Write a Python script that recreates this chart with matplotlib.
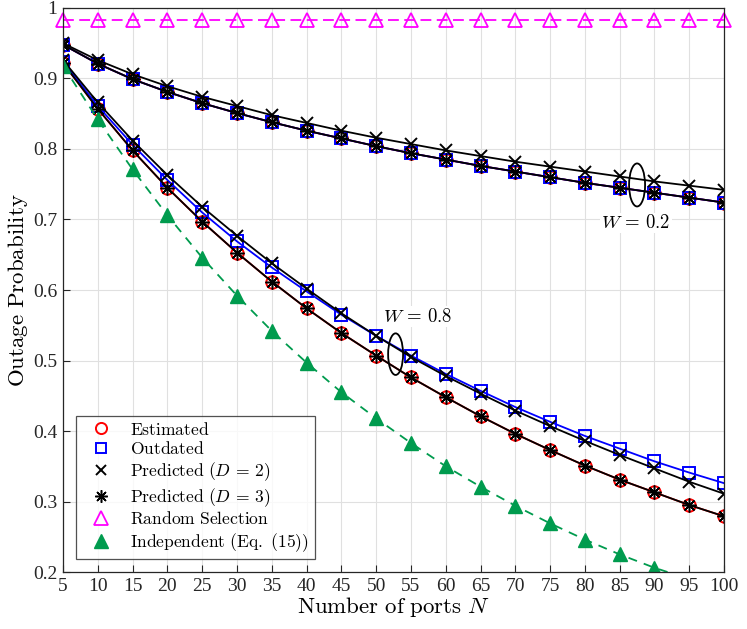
import numpy as np
import matplotlib
matplotlib.use("Agg")
import matplotlib.pyplot as plt
from matplotlib.lines import Line2D
from matplotlib.patches import Ellipse
from matplotlib.ticker import FuncFormatter

plt.rcParams['font.family'] = ['Liberation Serif', 'DejaVu Serif']
plt.rcParams['mathtext.fontset'] = 'cm'

N = list(range(5, 101, 5))

# W = 0.2
est_02 = [0.948, 0.921, 0.899, 0.881, 0.865, 0.851, 0.838, 0.826, 0.815, 0.804,
          0.794, 0.785, 0.776, 0.768, 0.760, 0.752, 0.745, 0.738, 0.731, 0.724]
out_02 = [0.948, 0.921, 0.899, 0.881, 0.865, 0.851, 0.838, 0.826, 0.815, 0.804,
          0.794, 0.785, 0.776, 0.768, 0.760, 0.752, 0.745, 0.738, 0.731, 0.724]
pd2_02 = [0.950, 0.926, 0.906, 0.889, 0.874, 0.861, 0.848, 0.837, 0.826, 0.816,
          0.807, 0.798, 0.790, 0.782, 0.775, 0.768, 0.761, 0.754, 0.748, 0.742]
pd3_02 = [0.948, 0.921, 0.899, 0.881, 0.865, 0.851, 0.838, 0.826, 0.815, 0.804,
          0.794, 0.785, 0.776, 0.768, 0.760, 0.752, 0.745, 0.738, 0.731, 0.724]

# W = 0.8
est_08 = [0.922, 0.857, 0.798, 0.745, 0.697, 0.653, 0.612, 0.574, 0.539, 0.507,
          0.476, 0.448, 0.421, 0.396, 0.373, 0.351, 0.331, 0.313, 0.295, 0.279]
out_08 = [0.924, 0.861, 0.806, 0.756, 0.710, 0.669, 0.632, 0.598, 0.565, 0.535,
          0.507, 0.481, 0.457, 0.434, 0.413, 0.393, 0.375, 0.357, 0.341, 0.326]
pd2_08 = [0.926, 0.866, 0.812, 0.763, 0.718, 0.677, 0.638, 0.602, 0.567, 0.535,
          0.505, 0.478, 0.453, 0.429, 0.407, 0.386, 0.366, 0.347, 0.328, 0.311]
pd3_08 = [0.922, 0.857, 0.798, 0.745, 0.697, 0.653, 0.612, 0.574, 0.539, 0.507,
          0.476, 0.448, 0.421, 0.396, 0.373, 0.351, 0.331, 0.313, 0.295, 0.279]

random_sel = [0.983] * 20
independent = [0.918, 0.842, 0.771, 0.706, 0.646, 0.592, 0.542, 0.497, 0.455, 0.418,
               0.383, 0.350, 0.321, 0.294, 0.269, 0.246, 0.225, 0.206, 0.190, 0.175]

green = '#009B4E'
ast = (8, 2, 0)

fig = plt.figure(figsize=(7.47, 6.29), dpi=100)
ax = fig.add_axes([0.0843, 0.0906, 0.885, 0.8967])

lw = 1.3
for est, out, pd2, pd3 in [(est_02, out_02, pd2_02, pd3_02), (est_08, out_08, pd2_08, pd3_08)]:
    ax.plot(N, est, color='red', lw=lw, marker='o', ms=9, mfc='none', mec='red', mew=1.4)
    ax.plot(N, out, color='blue', lw=lw, marker='s', ms=8, mfc='none', mec='blue', mew=1.4)
    ax.plot(N, pd2, color='black', lw=lw, marker='x', ms=8, mew=1.4)
    ax.plot(N, pd3, color='black', lw=lw, marker=ast, ms=10, mew=1.1)

ax.plot(N, random_sel, color='magenta', lw=lw, ls=(0, (6, 3)), marker='^', ms=10,
        mfc='none', mec='magenta', mew=1.3, clip_on=False)
ax.plot(N, independent, color=green, lw=lw, ls=(0, (5, 4)), marker='^', ms=10,
        mfc=green, mec=green)

# grouping ellipses
ax.add_patch(Ellipse((87.5, 0.749), 2.3, 0.061, fill=False, ec='black', lw=1.3, zorder=5))
ax.add_patch(Ellipse((52.8, 0.509), 2.15, 0.059, fill=False, ec='black', lw=1.3, zorder=5))
ax.text(87.3, 0.695, r'$W\,=\,0.2$', fontsize=13.5, ha='center', va='center',
        bbox=dict(facecolor='white', edgecolor='none', pad=1), zorder=6)
ax.text(56.0, 0.562, r'$W\,=\,0.8$', fontsize=13.5, ha='center', va='center',
        bbox=dict(facecolor='white', edgecolor='none', pad=1), zorder=6)

ax.set_xlim(5, 100)
ax.set_ylim(0.2, 1)
ax.set_xticks(N)
ax.set_yticks(np.arange(0.2, 1.01, 0.1))
ax.yaxis.set_major_formatter(FuncFormatter(lambda v, p: f'{v:g}'))
ax.tick_params(direction='in', length=5, labelsize=14, colors='#262626', pad=4)
ax.grid(True, color='#e0e0e0', lw=0.8)
ax.set_axisbelow(True)
for s in ax.spines.values():
    s.set_color('#262626')
    s.set_linewidth(0.9)

ax.set_xlabel(r'$\mathrm{Number\ of\ ports}\ N$', fontsize=16.5, labelpad=0)
ax.set_ylabel(r'$\mathrm{Outage\ Probability}$', fontsize=16.5, labelpad=2)

handles = [
    Line2D([], [], ls='none', marker='o', ms=8, mfc='none', mec='red', mew=1.4),
    Line2D([], [], ls='none', marker='s', ms=7, mfc='none', mec='blue', mew=1.4),
    Line2D([], [], ls='none', marker='x', ms=7, color='black', mew=1.4),
    Line2D([], [], ls='none', marker=ast, ms=9, color='black', mew=1.1),
    Line2D([], [], ls='none', marker='^', ms=10, mfc='none', mec='magenta', mew=1.3),
    Line2D([], [], ls='none', marker='^', ms=10, mfc=green, mec=green),
]
labels = [r'$\mathrm{Estimated}$', r'$\mathrm{Outdated}$',
          r'$\mathrm{Predicted}\ (D\,=\,2)$', r'$\mathrm{Predicted}\ (D\,=\,3)$',
          r'$\mathrm{Random\ Selection}$', r'$\mathrm{Independent\ (Eq.\ (15))}$']
leg = ax.legend(handles, labels, loc='lower left', fontsize=12.6, frameon=True,
                fancybox=False, edgecolor='#262626', borderaxespad=0.75,
                handletextpad=0.6, labelspacing=0.15, borderpad=0.3, handlelength=2.2)
leg.get_frame().set_linewidth(0.9)

fig.savefig('out.png', dpi=100)
